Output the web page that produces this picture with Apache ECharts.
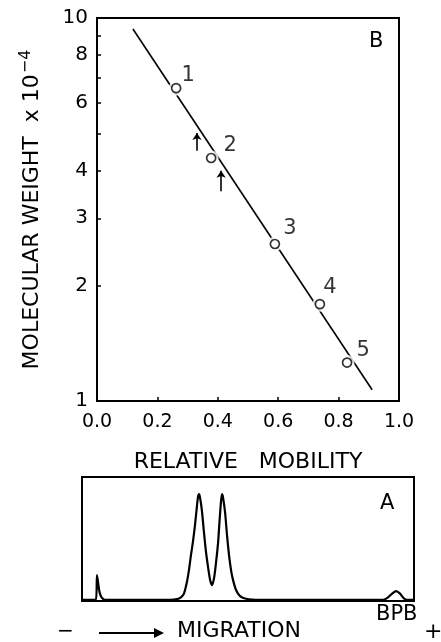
<!DOCTYPE html>
<html>
<head>
<meta charset="utf-8">
<script src="https://cdn.jsdelivr.net/npm/echarts@6/dist/echarts.min.js"></script>
<style>
  html, body { margin: 0; padding: 0; background: #fff; }
  #chart { width: 441px; height: 642px; }
</style>
</head>
<body>
<div id="chart"></div>
<script>
// ---- Panel B: calibration standards ----
const standardIds = ['1', '2', '3', '4', '5'];
const standardMobility = [0.262, 0.378, 0.589, 0.738, 0.828];
const standardWeight = [6.56, 4.31, 2.57, 1.79, 1.26];   // x 10^4

// Fitted calibration line (end points)
const fitMobility = [0.119, 0.911];
const fitWeight = [9.36, 1.07];

// Arrows marking the two sample bands
const arrowMobility = [0.331, 0.411];
const arrowTail = [4.50, 3.53];
const arrowHead = [5.01, 3.99];

// Axis ticks
const xTickValues = [0.0, 0.2, 0.4, 0.6, 0.8, 1.0];
const yTickValues = [1, 2, 3, 4, 5, 6, 7, 8, 9, 10];
const yLabelValues = [1, 2, 3, 4, 6, 8, 10];

// ---- Panel A: densitometer scan of the gel ----
const tracePosition = [
  0.000, 0.042, 0.045, 0.048, 0.051, 0.054, 0.060, 0.069,
  0.265, 0.286, 0.298, 0.307, 0.316, 0.322, 0.328, 0.334, 0.340, 0.345, 0.349, 0.352,
  0.355, 0.361, 0.367, 0.373, 0.380, 0.386, 0.392, 0.398, 0.404, 0.410, 0.414, 0.419,
  0.422, 0.425, 0.431, 0.437, 0.443, 0.449, 0.455, 0.464, 0.476, 0.494, 0.536,
  0.907, 0.922, 0.934, 0.946, 0.958, 0.970, 0.979, 1.000
];
const traceAbsorbance = [
  0.000, 0.000, 0.200, 0.150, 0.090, 0.050, 0.015, 0.000,
  0.000, 0.005, 0.020, 0.050, 0.145, 0.240, 0.360, 0.470, 0.600, 0.730, 0.830, 0.860,
  0.840, 0.730, 0.560, 0.400, 0.260, 0.160, 0.120, 0.180, 0.310, 0.470, 0.630, 0.810,
  0.860, 0.830, 0.710, 0.520, 0.360, 0.240, 0.160, 0.080, 0.030, 0.008, 0.000,
  0.000, 0.020, 0.050, 0.070, 0.050, 0.010, 0.000, 0.000
];

const FONT = 'DejaVu Sans';
const INK = '#000';

const chart = echarts.init(document.getElementById('chart'), null, { renderer: 'canvas' });

// label offsets for the standard numbers
const idOffsets = [[12, -13], [19, -12], [15, -15], [10, -17], [16, -12]];

const points = standardMobility.map((x, i) => ({
  value: [x, standardWeight[i]],
  label: { offset: idOffsets[i] }
}));

const option = {
  backgroundColor: '#fff',
  animation: false,
  textStyle: { fontFamily: FONT, color: INK },
  grid: [
    { left: 97, top: 18, width: 302, height: 383, show: true, borderColor: INK, borderWidth: 2, outerBoundsMode: 'none' },
    { left: 82, top: 477, width: 332, height: 124, show: true, borderColor: INK, borderWidth: 2, outerBoundsMode: 'none' }
  ],
  xAxis: [
    {
      type: 'value', gridIndex: 0, min: 0, max: 1, interval: 0.2,
      axisLine: { lineStyle: { color: INK, width: 2 } },
      axisTick: { inside: true, length: 4, lineStyle: { color: INK, width: 1.5 }, customValues: xTickValues },
      axisLabel: {
        customValues: xTickValues,
        formatter: v => v.toFixed(1), color: INK, fontSize: 19, fontFamily: FONT, margin: 12
      },
      splitLine: { show: false },
      name: 'RELATIVE   MOBILITY', nameLocation: 'middle', nameGap: 50,
      nameTextStyle: { fontSize: 22, fontFamily: FONT, color: INK }
    },
    { type: 'value', gridIndex: 1, min: 0, max: 1, show: false }
  ],
  yAxis: [
    {
      type: 'log', gridIndex: 0, logBase: 10, min: 1, max: 10,
      axisLine: { lineStyle: { color: INK, width: 2 } },
      axisTick: { inside: true, length: 4, lineStyle: { color: INK, width: 1.5 }, customValues: yTickValues },
      axisLabel: { customValues: yLabelValues, color: INK, fontSize: 20, fontFamily: FONT, margin: 9 },
      splitLine: { show: false },
      name: '{t|MOLECULAR WEIGHT  x 10}{s|−4}',
      nameLocation: 'middle', nameRotate: 90, nameGap: 51,
      nameTextStyle: {
        rich: {
          t: { fontSize: 22, fontFamily: FONT, color: INK },
          s: { fontSize: 16, fontFamily: FONT, color: INK, verticalAlign: 'top', padding: [0, 0, 12, 1] }
        }
      }
    },
    { type: 'value', gridIndex: 1, min: -0.01, max: 1, show: false }
  ],
  series: [
    {
      name: 'fit', type: 'line', xAxisIndex: 0, yAxisIndex: 0,
      data: fitMobility.map((x, i) => [x, fitWeight[i]]),
      symbol: 'none', lineStyle: { color: INK, width: 1.6 }, z: 2
    },
    {
      // white halo leaves a small gap in the line round each standard
      name: 'halo', type: 'scatter', xAxisIndex: 0, yAxisIndex: 0,
      data: standardMobility.map((x, i) => [x, standardWeight[i]]),
      symbol: 'circle', symbolSize: 15, itemStyle: { color: '#fff' }, z: 3, silent: true
    },
    {
      name: 'standards', type: 'scatter', xAxisIndex: 0, yAxisIndex: 0,
      data: points, symbol: 'circle', symbolSize: 9,
      itemStyle: { color: '#fff', borderColor: INK, borderWidth: 1.7 },
      label: {
        show: true, position: 'inside', fontSize: 21, fontFamily: FONT,
        color: INK, textBorderWidth: 0, textBorderColor: 'transparent',
        formatter: p => standardIds[p.dataIndex]
      },
      z: 4
    },
    {
      name: 'bands', type: 'lines', coordinateSystem: 'cartesian2d', xAxisIndex: 0, yAxisIndex: 0,
      data: arrowMobility.map((x, i) => ({ coords: [[x, arrowTail[i]], [x, arrowHead[i]]] })),
      symbol: ['none', 'arrow'], symbolSize: 7,
      lineStyle: { color: INK, width: 1.6, opacity: 1 }, z: 4
    },
    {
      name: 'scan', type: 'line', xAxisIndex: 1, yAxisIndex: 1,
      data: tracePosition.map((x, i) => [x, traceAbsorbance[i]]),
      symbol: 'none', smooth: 0.25, lineStyle: { color: INK, width: 2.2 }
    }
  ],
  graphic: [
    { type: 'text', left: 369, top: 31, style: { text: 'B', font: `21px "${FONT}"`, fill: INK } },
    { type: 'text', left: 380, top: 493, style: { text: 'A', font: `21px "${FONT}"`, fill: INK } },
    { type: 'text', left: 376, top: 604, style: { text: 'BPB', font: `21px "${FONT}"`, fill: INK } },
    { type: 'text', left: 424, top: 621, style: { text: '+', font: `22px "${FONT}"`, fill: INK } },
    { type: 'text', left: 57, top: 622, style: { text: '−', font: `20px "${FONT}"`, fill: INK } },
    { type: 'line', shape: { x1: 99, y1: 633, x2: 160, y2: 633 }, style: { stroke: INK, lineWidth: 1.8 } },
    { type: 'polygon', shape: { points: [[154, 628], [164, 633], [154, 638]] }, style: { fill: INK } },
    { type: 'text', left: 177, top: 620, style: { text: 'MIGRATION', font: `22px "${FONT}"`, fill: INK } }
  ]
};

chart.setOption(option);
</script>
</body>
</html>
